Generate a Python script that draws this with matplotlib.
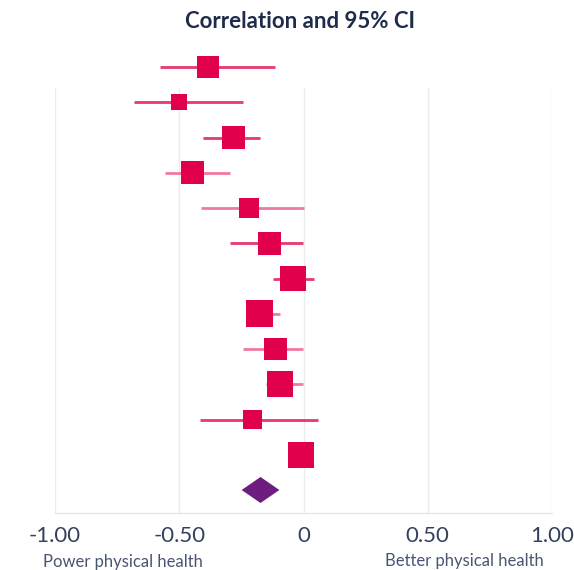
import numpy as np
import matplotlib.pyplot as plt

# Данные (сверху вниз).
estimates = [-0.383, -0.502, -0.281, -0.446, -0.219, -0.135, -0.042, -0.176, -0.114, -0.094, -0.207, -0.011]
ci_low = [-0.576, -0.683, -0.405, -0.559, -0.412, -0.295, -0.124, -0.200, -0.242, -0.150, -0.418, -0.030]
ci_high = [-0.114, -0.242, -0.177, -0.295, 0.000, -0.003, 0.043, -0.094, -0.003, -0.003, 0.060, 0.008]
weights = [22.6, 16.4, 23.6, 23.6, 20.3, 23.3, 26.0, 27.3, 23.3, 26.7, 19.3, 26.7]
faded = [False, False, False, True, True, False, False, True, True, True, False, False]

pooled = -0.173
pooled_low = -0.249
pooled_high = -0.097

ticks = [-1.0, -0.5, 0.0, 0.5, 1.0]
tick_labels = ['-1.00', '-0.50', '0', '0.50', '1.00']

NAVY = '#1f2b4d'
SQUARE = '#e0004b'
LINE = '#e8386c'
LINE_FADED = '#f07a9d'
PURPLE = '#6c1d7f'

plt.rcParams['font.family'] = ['Lato', 'DejaVu Sans']

W, H = 574, 570
fig = plt.figure(figsize=(W / 100, H / 100), dpi=100)

# Оси подогнаны под пиксели оригинала: x=-1 -> 55 px, x=1 -> 552 px.
left, right = 55, 552
top, bottom = 50, 513
ax = fig.add_axes([left / W, 1 - bottom / H, (right - left) / W, (bottom - top) / H])

row0, step = 67, 35.25
y_top = (top - row0) / step
y_bot = (bottom - row0) / step
ax.set_xlim(-1, 1)
ax.set_ylim(y_bot, y_top)

# Вертикальная сетка начинается чуть ниже первой строки.
grid_top = (87 - row0) / step
ax.vlines(ticks, grid_top, y_bot, colors='#ececec', linewidth=1, zorder=0)

rows = np.arange(len(estimates))
for i in rows:
    ax.plot([ci_low[i], ci_high[i]], [i, i],
            color=LINE_FADED if faded[i] else LINE,
            linewidth=2.0, solid_capstyle='butt', zorder=2)
ax.scatter(estimates, rows, marker='s', s=(np.array(weights) * 0.71) ** 2,
           color=SQUARE, linewidths=0, zorder=3, clip_on=False)

yd = len(estimates)
half_h = 13 / step
ax.fill([pooled_low, pooled, pooled_high, pooled],
        [yd, yd - half_h, yd, yd + half_h],
        color=PURPLE, linewidth=0, zorder=3)

for side in ['top', 'left', 'right']:
    ax.spines[side].set_visible(False)
ax.spines['bottom'].set_color('#e6e6e6')
ax.spines['bottom'].set_linewidth(1)
ax.set_yticks([])
ax.set_xticks(ticks)
ax.set_xticklabels(tick_labels, fontsize=16, color='#34405e')
ax.tick_params(axis='x', length=0, pad=9)

fig.text(300 / W, 1 - 21 / H, 'Correlation and 95% CI', ha='center', va='center',
         fontsize=16, fontweight='bold', color=NAVY)
fig.text(123 / W, 1 - 562 / H, 'Power physical health', ha='center', va='center',
         fontsize=12, color='#4a5572')
fig.text(464 / W, 1 - 561 / H, 'Better physical health', ha='center', va='center',
         fontsize=12, color='#4a5572')

fig.savefig('out.png', dpi=100)
